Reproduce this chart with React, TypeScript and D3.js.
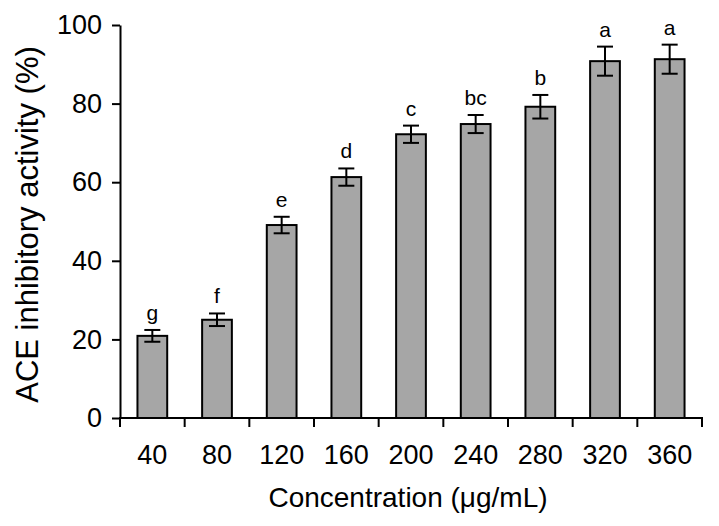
import React, { useRef, useEffect } from 'react';
import * as d3 from 'd3';

const concentrations = ['40', '80', '120', '160', '200', '240', '280', '320', '360'];
const activity = [20.9, 25.0, 49.1, 61.3, 72.2, 74.8, 79.2, 90.8, 91.3];
const errors = [1.5, 1.6, 2.1, 2.2, 2.2, 2.3, 3.0, 3.7, 3.7];
const groups = ['g', 'f', 'e', 'd', 'c', 'bc', 'b', 'a', 'a'];
const yTicks = [0, 20, 40, 60, 80, 100];

const W = 719;
const H = 526;
const FONT = 'Liberation Sans, Arial, Helvetica, sans-serif';

export default function App() {
  const svgRef = useRef<SVGSVGElement>(null);

  useEffect(() => {
    if (!svgRef.current) return;
    const svg = d3.select(svgRef.current);
    svg.selectAll('*').remove();

    const left = 120, right = 702, top = 25, bottom = 418;

    const x = d3.scaleBand<string>()
      .domain(concentrations)
      .range([left, right])
      .paddingInner(0.54)
      .paddingOuter(0.27);

    const y = d3.scaleLinear().domain([0, 100]).range([bottom, top]);

    const rows = concentrations.map((c, i) => ({
      c, v: activity[i], e: errors[i], g: groups[i]
    }));

    // bars
    svg.append('g')
      .selectAll('rect')
      .data(rows)
      .enter()
      .append('rect')
      .attr('x', d => x(d.c)!)
      .attr('y', d => y(d.v))
      .attr('width', x.bandwidth())
      .attr('height', d => y(0) - y(d.v))
      .attr('fill', '#a6a6a6')
      .attr('stroke', '#000')
      .attr('stroke-width', 2);

    // error bars
    const cap = 8;
    const err = svg.append('g').attr('stroke', '#000').attr('stroke-width', 2);
    rows.forEach(d => {
      const cx = x(d.c)! + x.bandwidth() / 2;
      err.append('line').attr('x1', cx).attr('x2', cx).attr('y1', y(d.v + d.e)).attr('y2', y(d.v - d.e));
      err.append('line').attr('x1', cx - cap).attr('x2', cx + cap).attr('y1', y(d.v + d.e)).attr('y2', y(d.v + d.e));
      err.append('line').attr('x1', cx - cap).attr('x2', cx + cap).attr('y1', y(d.v - d.e)).attr('y2', y(d.v - d.e));
    });

    // significance letters
    svg.append('g')
      .selectAll('text')
      .data(rows)
      .enter()
      .append('text')
      .attr('x', d => x(d.c)! + x.bandwidth() / 2)
      .attr('y', d => y(d.v + d.e) - 10)
      .attr('text-anchor', 'middle')
      .attr('font-family', FONT)
      .attr('font-size', 21)
      .text(d => d.g);

    // y axis
    const yAxis = svg.append('g')
      .attr('transform', `translate(${left},0)`)
      .call(d3.axisLeft(y).tickValues(yTicks).tickSize(8).tickSizeOuter(0).tickPadding(10));
    yAxis.select('.domain').attr('stroke-width', 2);
    yAxis.selectAll('.tick line').attr('stroke-width', 2);
    yAxis.selectAll('.tick text')
      .attr('font-family', FONT)
      .attr('font-size', 27)
      .attr('fill', '#000');

    // x axis: line + ticks at band boundaries
    const xg = svg.append('g').attr('stroke', '#000').attr('stroke-width', 2);
    xg.append('line').attr('x1', left - 1).attr('x2', right + 1).attr('y1', bottom).attr('y2', bottom);
    const boundaries = d3.range(concentrations.length + 1).map(i => left + i * x.step());
    boundaries.forEach(b => {
      xg.append('line').attr('x1', b).attr('x2', b).attr('y1', bottom).attr('y2', bottom + 9);
    });

    svg.append('g')
      .selectAll('text')
      .data(concentrations)
      .enter()
      .append('text')
      .attr('x', d => x(d)! + x.bandwidth() / 2)
      .attr('y', 464)
      .attr('text-anchor', 'middle')
      .attr('font-family', FONT)
      .attr('font-size', 27)
      .text(d => d);

    // axis titles
    svg.append('text')
      .attr('x', (left + right) / 2 - 3)
      .attr('y', 507)
      .attr('text-anchor', 'middle')
      .attr('font-family', FONT)
      .attr('font-size', 28)
      .text('Concentration (\u03bcg/mL)');

    svg.append('text')
      .attr('transform', `translate(38,${(top + bottom) / 2 + 3}) rotate(-90)`)
      .attr('text-anchor', 'middle')
      .attr('font-family', FONT)
      .attr('font-size', 31)
      .text('ACE inhibitory activity (%)');
  }, []);

  return (
    <svg
      ref={svgRef}
      width={W}
      height={H}
      style={{ position: 'absolute', left: 0, top: 0, background: '#fff' }}
    />
  );
}
